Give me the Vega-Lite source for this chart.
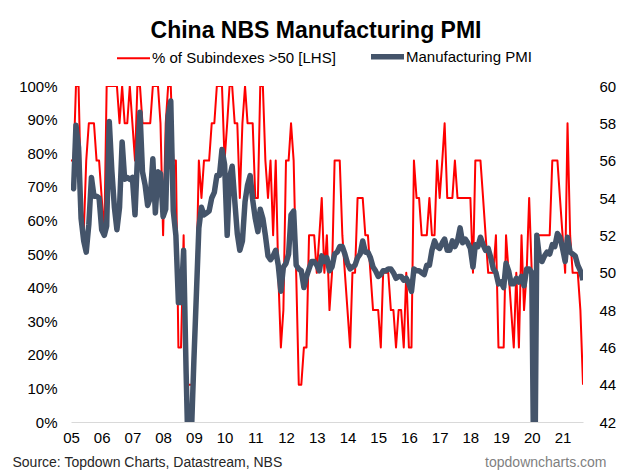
{
"$schema": "https://vega.github.io/schema/vega-lite/v6.json",
"width": 512,
"height": 336,
"autosize": {"type": "none"},
"padding": {"left": 71, "top": 86, "right": 47, "bottom": 54},
"background": "white",
"config": {"font": "Liberation Sans", "view": {"stroke": null}},
"title": {"text": "China NBS Manufacturing PMI", "fontSize": 23, "fontWeight": "bold", "color": "#000000", "anchor": "middle", "frame": "group", "dx": -11, "offset": 6},
"data": {"values": [
{"d":"2005-01","p":77.8,"v":54.7},{"d":"2005-02","p":77.8,"v":54.5},{"d":"2005-03","p":100,"v":57.9},{"d":"2005-04","p":100,"v":56.7},{"d":"2005-05","p":66.7,"v":52.9},{"d":"2005-06","p":55.6,"v":51.7},{"d":"2005-07","p":77.8,"v":51.1},{"d":"2005-08","p":88.9,"v":52.6},{"d":"2005-09","p":88.9,"v":55.1},{"d":"2005-10","p":88.9,"v":54.1},{"d":"2005-11","p":77.8,"v":54.1},{"d":"2005-12","p":77.8,"v":54.0},
{"d":"2006-01","p":66.7,"v":52.3},{"d":"2006-02","p":55.6,"v":52.0},{"d":"2006-03","p":100,"v":52.5},{"d":"2006-04","p":100,"v":58.1},{"d":"2006-05","p":100,"v":55.5},{"d":"2006-06","p":100,"v":53.5},{"d":"2006-07","p":100,"v":52.3},{"d":"2006-08","p":88.9,"v":53.5},{"d":"2006-09","p":100,"v":57.0},{"d":"2006-10","p":88.9,"v":55.0},{"d":"2006-11","p":88.9,"v":55.1},{"d":"2006-12","p":100,"v":55.0},
{"d":"2007-01","p":88.9,"v":55.1},{"d":"2007-02","p":77.8,"v":53.1},{"d":"2007-03","p":100,"v":56.1},{"d":"2007-04","p":100,"v":58.6},{"d":"2007-05","p":88.9,"v":55.4},{"d":"2007-06","p":88.9,"v":54.7},{"d":"2007-07","p":88.9,"v":53.6},{"d":"2007-08","p":88.9,"v":54.0},{"d":"2007-09","p":100,"v":56.1},{"d":"2007-10","p":100,"v":53.2},{"d":"2007-11","p":100,"v":55.4},{"d":"2007-12","p":88.9,"v":55.3},
{"d":"2008-01","p":55.6,"v":53.0},{"d":"2008-02","p":88.9,"v":53.4},{"d":"2008-03","p":100,"v":58.4},{"d":"2008-04","p":100,"v":59.2},{"d":"2008-05","p":77.8,"v":53.3},{"d":"2008-06","p":77.8,"v":52.0},{"d":"2008-07","p":22.2,"v":48.4},{"d":"2008-08","p":22.2,"v":48.4},{"d":"2008-09","p":55.6,"v":51.2},{"d":"2008-10","p":11.1,"v":44.6},{"d":"2008-11","p":11.1,"v":38.8},{"d":"2008-12","p":11.1,"v":41.2},
{"d":"2009-01","p":11.1,"v":45.3},{"d":"2009-02","p":44.4,"v":49.0},{"d":"2009-03","p":77.8,"v":52.4},{"d":"2009-04","p":66.7,"v":53.5},{"d":"2009-05","p":77.8,"v":53.1},{"d":"2009-06","p":77.8,"v":53.2},{"d":"2009-07","p":77.8,"v":53.3},{"d":"2009-08","p":88.9,"v":54.0},{"d":"2009-09","p":88.9,"v":54.3},{"d":"2009-10","p":100,"v":55.2},{"d":"2009-11","p":100,"v":55.2},{"d":"2009-12","p":100,"v":56.6},
{"d":"2010-01","p":77.8,"v":55.8},{"d":"2010-02","p":88.9,"v":52.0},{"d":"2010-03","p":100,"v":55.1},{"d":"2010-04","p":100,"v":55.7},{"d":"2010-05","p":88.9,"v":53.9},{"d":"2010-06","p":88.9,"v":52.1},{"d":"2010-07","p":66.7,"v":51.2},{"d":"2010-08","p":88.9,"v":51.7},{"d":"2010-09","p":100,"v":53.8},{"d":"2010-10","p":88.9,"v":54.7},{"d":"2010-11","p":88.9,"v":55.2},{"d":"2010-12","p":88.9,"v":53.9},
{"d":"2011-01","p":66.7,"v":52.9},{"d":"2011-02","p":66.7,"v":52.2},{"d":"2011-03","p":100,"v":53.4},{"d":"2011-04","p":100,"v":52.9},{"d":"2011-05","p":77.8,"v":52.0},{"d":"2011-06","p":66.7,"v":50.9},{"d":"2011-07","p":77.8,"v":50.7},{"d":"2011-08","p":55.6,"v":50.9},{"d":"2011-09","p":77.8,"v":51.2},{"d":"2011-10","p":44.4,"v":50.4},{"d":"2011-11","p":22.2,"v":49.0},{"d":"2011-12","p":33.3,"v":50.3},
{"d":"2012-01","p":77.8,"v":50.5},{"d":"2012-02","p":77.8,"v":51.0},{"d":"2012-03","p":88.9,"v":53.1},{"d":"2012-04","p":77.8,"v":53.3},{"d":"2012-05","p":44.4,"v":50.4},{"d":"2012-06","p":11.1,"v":50.2},{"d":"2012-07","p":11.1,"v":50.1},{"d":"2012-08","p":22.2,"v":49.2},{"d":"2012-09","p":22.2,"v":49.8},{"d":"2012-10","p":55.6,"v":50.2},{"d":"2012-11","p":55.6,"v":50.6},{"d":"2012-12","p":55.6,"v":50.6},
{"d":"2013-01","p":44.4,"v":50.4},{"d":"2013-02","p":55.6,"v":50.1},{"d":"2013-03","p":66.7,"v":50.9},{"d":"2013-04","p":44.4,"v":50.6},{"d":"2013-05","p":55.6,"v":50.8},{"d":"2013-06","p":33.3,"v":50.1},{"d":"2013-07","p":44.4,"v":50.3},{"d":"2013-08","p":77.8,"v":51.0},{"d":"2013-09","p":77.8,"v":51.1},{"d":"2013-10","p":77.8,"v":51.4},{"d":"2013-11","p":55.6,"v":51.4},{"d":"2013-12","p":44.4,"v":51.0},
{"d":"2014-01","p":33.3,"v":50.5},{"d":"2014-02","p":22.2,"v":50.2},{"d":"2014-03","p":44.4,"v":50.3},{"d":"2014-04","p":44.4,"v":50.4},{"d":"2014-05","p":66.7,"v":50.8},{"d":"2014-06","p":66.7,"v":51.0},{"d":"2014-07","p":66.7,"v":51.7},{"d":"2014-08","p":55.6,"v":51.1},{"d":"2014-09","p":55.6,"v":51.1},{"d":"2014-10","p":44.4,"v":50.8},{"d":"2014-11","p":33.3,"v":50.3},{"d":"2014-12","p":33.3,"v":50.1},
{"d":"2015-01","p":33.3,"v":49.8},{"d":"2015-02","p":22.2,"v":49.9},{"d":"2015-03","p":44.4,"v":50.1},{"d":"2015-04","p":44.4,"v":50.1},{"d":"2015-05","p":44.4,"v":50.2},{"d":"2015-06","p":33.3,"v":50.2},{"d":"2015-07","p":33.3,"v":50.0},{"d":"2015-08","p":22.2,"v":49.7},{"d":"2015-09","p":33.3,"v":49.8},{"d":"2015-10","p":33.3,"v":49.8},{"d":"2015-11","p":22.2,"v":49.6},{"d":"2015-12","p":44.4,"v":49.7},
{"d":"2016-01","p":22.2,"v":49.4},{"d":"2016-02","p":22.2,"v":49.0},{"d":"2016-03","p":77.8,"v":50.2},{"d":"2016-04","p":66.7,"v":50.1},{"d":"2016-05","p":66.7,"v":50.1},{"d":"2016-06","p":55.6,"v":50.0},{"d":"2016-07","p":55.6,"v":49.9},{"d":"2016-08","p":55.6,"v":50.4},{"d":"2016-09","p":66.7,"v":50.4},{"d":"2016-10","p":55.6,"v":51.2},{"d":"2016-11","p":55.6,"v":51.7},{"d":"2016-12","p":77.8,"v":51.4},
{"d":"2017-01","p":66.7,"v":51.3},{"d":"2017-02","p":77.8,"v":51.6},{"d":"2017-03","p":88.9,"v":51.8},{"d":"2017-04","p":66.7,"v":51.2},{"d":"2017-05","p":66.7,"v":51.2},{"d":"2017-06","p":66.7,"v":51.7},{"d":"2017-07","p":77.8,"v":51.4},{"d":"2017-08","p":66.7,"v":51.7},{"d":"2017-09","p":66.7,"v":52.4},{"d":"2017-10","p":66.7,"v":51.6},{"d":"2017-11","p":66.7,"v":51.8},{"d":"2017-12","p":66.7,"v":51.6},
{"d":"2018-01","p":66.7,"v":51.3},{"d":"2018-02","p":44.4,"v":50.3},{"d":"2018-03","p":77.8,"v":51.5},{"d":"2018-04","p":77.8,"v":51.4},{"d":"2018-05","p":77.8,"v":51.9},{"d":"2018-06","p":66.7,"v":51.5},{"d":"2018-07","p":55.6,"v":51.2},{"d":"2018-08","p":44.4,"v":51.3},{"d":"2018-09","p":44.4,"v":50.8},{"d":"2018-10","p":44.4,"v":50.2},{"d":"2018-11","p":55.6,"v":50.0},{"d":"2018-12","p":22.2,"v":49.4},
{"d":"2019-01","p":22.2,"v":49.5},{"d":"2019-02","p":22.2,"v":49.2},{"d":"2019-03","p":55.6,"v":50.5},{"d":"2019-04","p":44.4,"v":50.1},{"d":"2019-05","p":33.3,"v":49.4},{"d":"2019-06","p":22.2,"v":49.4},{"d":"2019-07","p":44.4,"v":49.7},{"d":"2019-08","p":22.2,"v":49.5},{"d":"2019-09","p":55.6,"v":49.8},{"d":"2019-10","p":33.3,"v":49.3},{"d":"2019-11","p":44.4,"v":50.2},{"d":"2019-12","p":66.7,"v":50.2},
{"d":"2020-01","p":44.4,"v":50.0},{"d":"2020-02","p":0,"v":35.7},{"d":"2020-03","p":55.6,"v":52.0},{"d":"2020-04","p":55.6,"v":50.8},{"d":"2020-05","p":55.6,"v":50.6},{"d":"2020-06","p":55.6,"v":50.9},{"d":"2020-07","p":55.6,"v":51.1},{"d":"2020-08","p":55.6,"v":51.0},{"d":"2020-09","p":77.8,"v":51.5},{"d":"2020-10","p":77.8,"v":51.4},{"d":"2020-11","p":77.8,"v":52.1},{"d":"2020-12","p":66.7,"v":51.9},
{"d":"2021-01","p":55.6,"v":51.3},{"d":"2021-02","p":44.4,"v":50.6},{"d":"2021-03","p":88.9,"v":51.9},{"d":"2021-04","p":55.6,"v":51.1},{"d":"2021-05","p":44.4,"v":51.0},{"d":"2021-06","p":44.4,"v":50.9},{"d":"2021-07","p":44.4,"v":50.4},{"d":"2021-08","p":33.3,"v":50.1},{"d":"2021-09","p":11.1,"v":49.6}
]},
"layer": [
{
"mark": {"type": "line", "clip": true, "strokeJoin": "round", "strokeWidth": 2},
"encoding": {
"x": {"field": "d", "type": "temporal", "scale": {"type": "utc", "nice": false},
"axis": {"format": "%y", "tickCount": {"interval": "year", "step": 1}, "labelFontSize": 15, "labelColor": "#000000", "labelPadding": 8, "ticks": false, "grid": false, "domainColor": "#D9D9D9", "domainWidth": 1, "labelFlush": false, "labelOverlap": false,
"title": "Source: Topdown Charts, Datastream, NBS", "titleFontSize": 14, "titleFontWeight": "normal", "titleColor": "#262626", "titleAnchor": "start", "titleAlign": "left", "titleBaseline": "alphabetic", "titleX": -59, "titleY": 44}},
"y": {"field": "p", "type": "quantitative", "scale": {"domain": [0, 100], "nice": false},
"axis": {"orient": "left", "values": [0,10,20,30,40,50,60,70,80,90,100], "labelExpr": "datum.value + '%'", "labelFontSize": 15, "labelColor": "#000000", "labelPadding": 14, "ticks": false, "domain": false, "grid": false, "title": null}},
"color": {"datum": "% of Subindexes >50 [LHS]", "type": "nominal",
"scale": {"domain": ["% of Subindexes >50 [LHS]", "Manufacturing PMI"], "range": ["#FF0000", "#44546A"]},
"legend": {"orient": "none", "legendX": 55, "legendY": -37, "direction": "horizontal", "title": null, "labelFontSize": 15, "labelColor": "#000000", "labelOffset": 11, "labelLimit": 400, "symbolSize": 1089, "symbolType": "stroke", "columnPadding": 24, "padding": 0,
"encode": {"symbols": {"update": {"strokeWidth": {"signal": "datum.value === 'Manufacturing PMI' ? 5.5 : 2"}}}}}}
}
},
{
"mark": {"type": "line", "clip": true, "strokeJoin": "round", "strokeWidth": 5.5},
"encoding": {
"x": {"field": "d", "type": "temporal"},
"y": {"field": "v", "type": "quantitative", "scale": {"domain": [42, 60], "nice": false},
"axis": {"orient": "right", "values": [42,44,46,48,50,52,54,56,58,60], "labelFontSize": 15, "labelColor": "#000000", "labelPadding": 16, "ticks": false, "domain": false, "grid": false,
"title": "topdowncharts.com", "titleAngle": 0, "titleFontSize": 14, "titleFontWeight": "normal", "titleColor": "#7F7F7F", "titleAlign": "right", "titleBaseline": "alphabetic", "titleX": 23, "titleY": 380}},
"color": {"datum": "Manufacturing PMI", "type": "nominal"}
}
}
],
"resolve": {"scale": {"y": "independent"}}
}
